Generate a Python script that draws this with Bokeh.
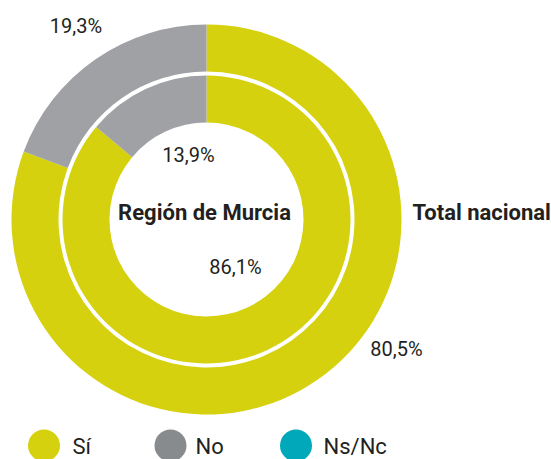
import math
from bokeh.plotting import figure
from bokeh.models import Range1d, ColumnDataSource
from bokeh.core.properties import value
from bokeh.embed import file_html
from bokeh.resources import INLINE

# ---- data ----
categories = ["Sí", "No", "Ns/Nc"]
murcia = [86.1, 13.9, 0.0]       # inner ring: Región de Murcia
nacional = [80.5, 19.3, 0.0]     # outer ring: Total nacional
colors = ["#D5D10F", "#A0A1A4", "#00A8BA"]
legend_colors = ["#D5D10F", "#888B8D", "#00A8BA"]

# ---- layout (window pixel coords) ----
W, H = 551, 459
FONT = "Roboto"
TXT = "#231F20"

def Y(wy):
    return H - wy

CX, CY = 206, 219
R_OUT, R_OUT_IN = 195, 148
R_IN, R_IN_IN = 144, 97

p = figure(width=W, height=H, output_backend="svg", toolbar_location=None,
           x_range=Range1d(0, W), y_range=Range1d(0, H),
           min_border=0, outline_line_color=None)
p.axis.visible = False
p.grid.visible = False
p.background_fill_color = "white"
p.border_fill_color = "white"


def ring_source(vals):
    total = sum(vals)
    d = dict(x=[], y=[], start=[], end=[], color=[], cat=[], val=[])
    cum = 0.0
    for v, c, cat in zip(vals, colors, categories):
        s = math.pi / 2 - 2 * math.pi * cum / total
        cum += v
        e = math.pi / 2 - 2 * math.pi * cum / total
        if v <= 0:
            continue
        d["x"].append(CX); d["y"].append(Y(CY))
        d["start"].append(s); d["end"].append(e)
        d["color"].append(c); d["cat"].append(cat); d["val"].append(v)
    return ColumnDataSource(d)

for vals, ri, ro in [(nacional, R_OUT_IN, R_OUT), (murcia, R_IN_IN, R_IN)]:
    src = ring_source(vals)
    p.annular_wedge(x="x", y="y", inner_radius=ri, outer_radius=ro,
                    inner_radius_units="screen", outer_radius_units="screen",
                    start_angle="start", end_angle="end", direction="clock",
                    fill_color="color", line_color=None, source=src)

def fmt(v):
    return f"{v:.1f}".replace(".", ",") + "%"

# value labels (layout positions in window coords)
lab_text = [fmt(nacional[1]), fmt(murcia[1]), fmt(murcia[0]), fmt(nacional[0])]
lab_x = [75.5, 188, 235, 396]
lab_y = [Y(25), Y(154.5), Y(266), Y(348)]
p.text(x=lab_x, y=lab_y, text=lab_text, text_font=value(FONT),
       text_font_size="20px", text_color=TXT, text_align="center",
       text_baseline="middle")

# titles
p.text(x=[204, 412], y=[Y(212), Y(212)],
       text=["Región de Murcia", "Total nacional"], text_font=value(FONT),
       text_font_style="bold", text_font_size="22px", text_color=TXT,
       text_align=["center", "left"], text_baseline="middle")

# legend
leg_x = [43.5, 170, 295.5]
p.scatter(x=leg_x, y=[Y(445)] * 3, size=32, marker="circle",
          fill_color=legend_colors, line_color=None)
p.text(x=[72, 195, 323], y=[Y(446)] * 3, text=categories,
       text_font=value(FONT), text_font_size="22px", text_color=TXT,
       text_align="left", text_baseline="middle")

open("out.html", "w").write(file_html(p, INLINE))
